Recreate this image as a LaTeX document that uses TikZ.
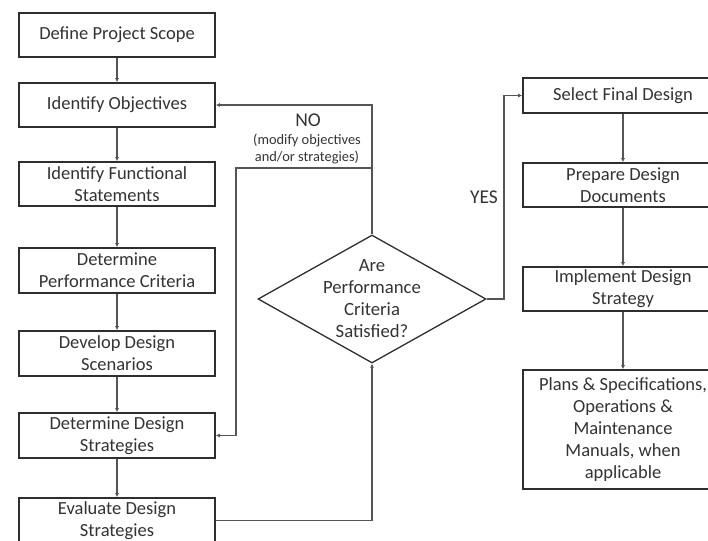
\documentclass[tikz,border=0pt]{standalone}
\usepackage{fontspec}
\setmainfont{Carlito}
\usepackage{xcolor}
\usetikzlibrary{arrows.meta,shapes.geometric}
\definecolor{boxline}{HTML}{2E2E2E}
\definecolor{flowline}{HTML}{555555}
\definecolor{ink}{HTML}{333333}

\begin{document}
\begin{tikzpicture}[
  x=1pt,y=-1pt,>={Latex[length=4pt,width=4pt]},
  stepbox/.style={draw=boxline,line width=1.6pt,fill=white,align=center,
    text=ink,font=\fontsize{18.5}{22}\selectfont,minimum width=196,minimum height=44,inner sep=1pt},
  finalbox/.style={stepbox,minimum width=200},
  decision/.style={draw=boxline,line width=1.3pt,shape=diamond,minimum width=228,
    minimum height=128,inner sep=0pt},
  flow/.style={->,line width=1.3pt,draw=flowline},
  tag/.style={text=ink,align=center,font=\fontsize{19.5}{22}\selectfont},
  note/.style={text=ink,align=center,font=\fontsize{14.4}{17}\selectfont}
]
\clip (0,0) rectangle (708,540);
\node[stepbox] (scope) at (117,35) {Define Project Scope};
\node[stepbox] (objectives) at (117,105) {Identify Objectives};
\node[stepbox] (functional) at (117,184) {Identify Functional\\Statements};
\node[stepbox,minimum height=45] (criteria) at (117,270.5) {Determine\\Performance Criteria};
\node[stepbox,minimum height=45] (scenarios) at (117,353.5) {Develop Design\\Scenarios};
\node[stepbox,minimum height=45] (strategies) at (117,435.5) {Determine Design\\Strategies};
\node[stepbox,minimum height=45] (evaluate) at (117,520.5) {Evaluate Design\\Strategies};
\node[decision] (check) at (372,299) {};
\node[tag,font=\fontsize{18.7}{22}\selectfont] (checktext) at (check) {Are\\Performance\\Criteria\\Satisfied?};
\node[finalbox,minimum height=35] (select) at (623,95.5) {Select Final Design};
\node[finalbox] (documents) at (623,185) {Prepare Design\\Documents};
\node[finalbox] (implement) at (623,289) {Implement Design\\Strategy};
\node[finalbox,minimum height=119] (plans) at (623,429.5) {Plans \& Specifications,\\Operations \&\\Maintenance\\Manuals, when\\applicable};
\node[tag] (no) at (308,120) {NO};
\node[note] (modify) at (307,149) {(modify objectives\\and/or strategies)};
\node[tag] (yes) at (484,197) {YES};
\coordinate (split) at (372,168);
\coordinate (backturn) at (236,168);
\coordinate (yesturn) at (504,299);
\draw[flow] (scope) -- (objectives);
\draw[flow] (objectives) -- (functional);
\draw[flow] (functional) -- (criteria);
\draw[flow] (criteria) -- (scenarios);
\draw[flow] (scenarios) -- (strategies);
\draw[flow] (strategies) -- (evaluate);
\draw[flow] (evaluate.east) -| (check.south);
\draw[flow] (check.north) |- (objectives.east);
\draw[flow] (split) -- (backturn) |- (strategies.east);
\draw[flow] (check.east) -- (yesturn) |- (select.west);
\draw[flow] (select) -- (documents);
\draw[flow] (documents) -- (implement);
\draw[flow] (implement) -- (plans);
\end{tikzpicture}
\end{document}
